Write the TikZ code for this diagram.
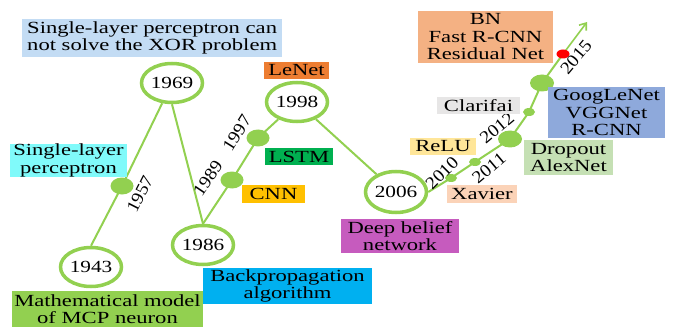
\documentclass[tikz,border=0pt]{standalone}
\usepackage{fontspec}
\setmainfont{Liberation Serif}[FakeStretch=1.33]
\newfontfamily\yrfamily{Liberation Serif}[FakeStretch=1.1]
\newfontfamily\numfamily{Liberation Serif}[FakeStretch=1.25]
\usetikzlibrary{shapes.geometric,arrows.meta,backgrounds}
\definecolor{lg}{HTML}{92D050}
\definecolor{cXOR}{HTML}{C3DCF4}
\definecolor{cLeNet}{HTML}{ED7D31}
\definecolor{cSLP}{HTML}{80FAFA}
\definecolor{cLSTM}{HTML}{00B050}
\definecolor{cCNN}{HTML}{FFC000}
\definecolor{cMCP}{HTML}{92D050}
\definecolor{cBP}{HTML}{00B0F0}
\definecolor{cDBN}{HTML}{C65BBE}
\definecolor{cXav}{HTML}{FBD3B8}
\definecolor{cReLU}{HTML}{FFE699}
\definecolor{cClar}{HTML}{E7E6E6}
\definecolor{cDrop}{HTML}{C5E0B4}
\definecolor{cGoog}{HTML}{8EA9DB}
\definecolor{cBN}{HTML}{F4B183}
\newcommand\fsz{\fontsize{17}{17.5}\selectfont}
\newcommand\nfsz{\numfamily\fontsize{17}{18}\selectfont}
\newcommand\yfsz{\yrfamily\fontsize{17.5}{18}\selectfont}
\tikzset{
  yearnode/.style={ellipse, draw=lg, line width=3.5pt, fill=white, minimum width=61pt, minimum height=39pt, inner sep=0pt, font=\nfsz},
  bigdot/.style={ellipse, fill=lg, minimum width=23pt, minimum height=17pt, inner sep=0pt},
  smalldot/.style={ellipse, fill=lg, minimum width=12pt, minimum height=8pt, inner sep=0pt},
  reddot/.style={ellipse, fill=red, minimum width=13pt, minimum height=9pt, inner sep=0pt},
  lbl/.style={inner sep=0pt, align=center, font=\fsz},
  yl/.style={font=\yfsz, inner sep=0pt},
  conn/.style={draw=lg, line width=2pt}
}
\begin{document}
\begin{tikzpicture}[x=1pt,y=1pt]
\useasboundingbox (0,0) rectangle (674,327);
% year ellipses
\node[yearnode] (n1969) at (172,244) {1969};
\node[yearnode] (n1998) at (297,225) {1998};
\node[yearnode] (n1943) at (91,60) {1943};
\node[yearnode] (n1986) at (203,82) {1986};
\node[yearnode, minimum height=41pt] (n2006) at (396,135) {2006};
% dots
\node[bigdot] (d1957) at (122,141) {};
\node[bigdot] (d1989) at (232,147) {};
\node[bigdot] (d1997) at (258,189) {};
\node[smalldot] (d2010) at (451,149) {};
\node[smalldot] (d2011) at (475,165) {};
\node[bigdot, minimum width=24pt] (d2012) at (510,188) {};
\node[smalldot] (d2013) at (529,215) {};
\node[bigdot, minimum width=24pt] (d2014) at (542,244) {};
\node[reddot] (d2015) at (563,273) {};
\coordinate (tip) at (587,305);
% connectors
\begin{scope}[on background layer]
\draw[conn] (n1943.north) -- (d1957.center) -- (n1969);
\draw[conn] (n1969.south) -- (n1986.north);
\draw[conn] (n1986.north) -- (d1989.center) -- (d1997.center) -- (n1998);
\draw[conn] (n1998) -- (n2006);
\draw[conn] (n2006.east) -- (d2010.center) -- (d2011.center) -- (d2012.center) -- (d2013.center) -- (d2014.center) -- (d2015.center);
\draw[draw=lg, line width=1.6pt, -{Straight Barb[length=6pt,width=9pt]}] (d2015.center) -- (tip);
\end{scope}
% year labels
\node[yl, rotate=63] (y1957) at (140,133) {1957};
\node[yl, rotate=56] (y1989) at (208,149) {1989};
\node[yl, rotate=58] (y1997) at (237,194) {1997};
\node[yl, rotate=45] (y2010) at (442,154) {2010};
\node[yl, rotate=40] (y2011) at (489,159) {2011};
\node[yl, rotate=40] (y2012) at (497,199) {2012};
\node[yl, rotate=50] (y2015) at (576,270) {2015};
% text boxes
\node[lbl, fill=cXOR, align=left, anchor=west, inner xsep=5pt, minimum height=38pt] (xor) at (22,289) {Single-layer perceptron can\\not solve the XOR problem};
\node[lbl, fill=cLeNet, minimum width=65pt, minimum height=17pt] (lenet) at (296.5,256.5) {LeNet};
\node[lbl, fill=cSLP, minimum width=117pt, minimum height=33pt] (slp) at (68.5,166.5) {Single-layer\\perceptron};
\node[lbl, fill=cLSTM, minimum width=68pt, minimum height=17pt] (lstm) at (299,170.5) {LSTM};
\node[lbl, fill=cCNN, minimum width=63pt, minimum height=18pt] (cnn) at (273.5,133) {CNN};
\node[lbl, fill=cMCP, minimum width=191pt, minimum height=36pt] (mcp) at (107.5,18) {Mathematical model\\of MCP neuron};
\node[lbl, fill=cBP, minimum width=169pt, minimum height=36pt] (bp) at (287.5,41) {Backpropagation\\algorithm};
\node[lbl, fill=cDBN, minimum width=118pt, minimum height=34pt] (dbn) at (400,91) {Deep belief\\network};
\node[lbl, fill=cXav, minimum width=70pt, minimum height=18pt] (xav) at (482,133) {Xavier};
\node[lbl, fill=cReLU, minimum width=66pt, minimum height=17pt] (relu) at (443,180.5) {ReLU};
\node[lbl, fill=cClar, minimum width=83pt, minimum height=17pt] (clar) at (478.5,221.5) {Clarifai};
\node[lbl, fill=cDrop, minimum width=89pt, minimum height=35pt] (drop) at (568.5,169.5) {Dropout\\AlexNet};
\node[lbl, fill=cGoog, minimum width=117pt, minimum height=51pt] (goog) at (606.5,214.5) {GoogLeNet\\VGGNet\\R-CNN};
\node[lbl, fill=cBN, minimum width=135pt, minimum height=52pt] (bn) at (485.5,290) {BN\\Fast R-CNN\\Residual Net};
\end{tikzpicture}
\end{document}
